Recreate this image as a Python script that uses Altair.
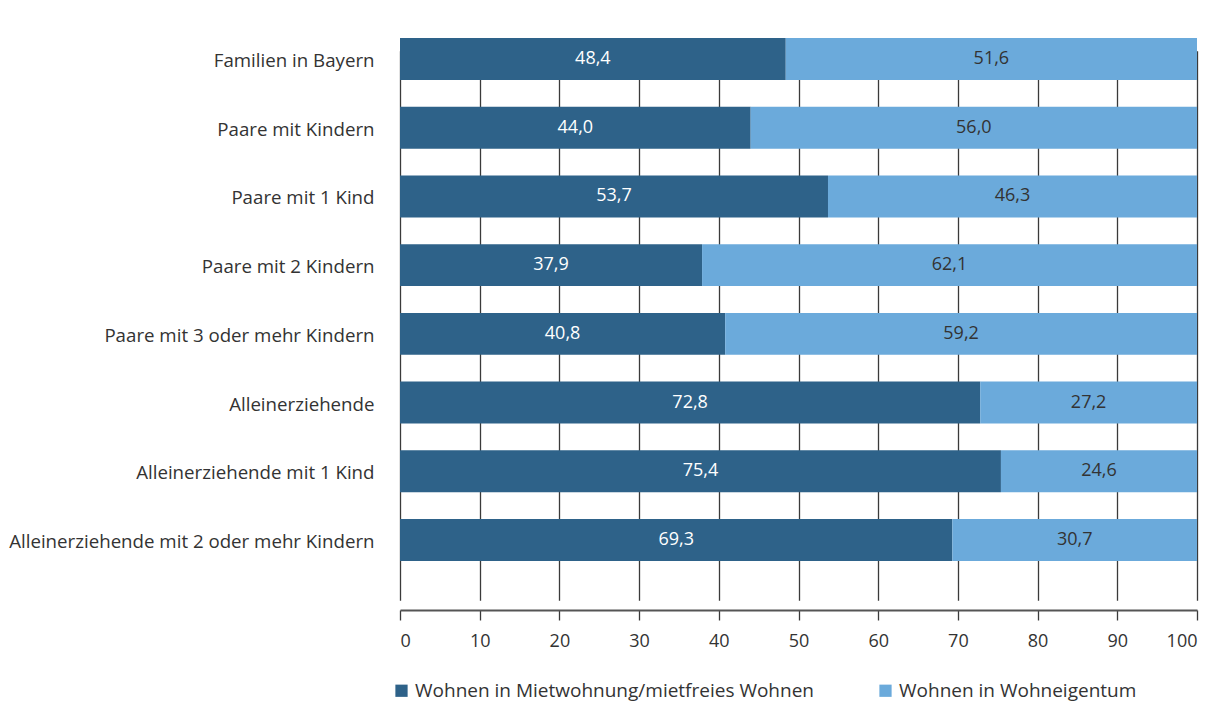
import altair as alt
import pandas as pd

categories = [
    "Familien in Bayern",
    "Paare mit Kindern",
    "Paare mit 1 Kind",
    "Paare mit 2 Kindern",
    "Paare mit 3 oder mehr Kindern",
    "Alleinerziehende",
    "Alleinerziehende mit 1 Kind",
    "Alleinerziehende mit 2 oder mehr Kindern",
]
miete = [48.4, 44.0, 53.7, 37.9, 40.8, 72.8, 75.4, 69.3]
eigentum = [51.6, 56.0, 46.3, 62.1, 59.2, 27.2, 24.6, 30.7]
series = ["Wohnen in Mietwohnung/mietfreies Wohnen", "Wohnen in Wohneigentum"]
colors = ["#2E6289", "#6BAADB"]
x_ticks = [0, 10, 20, 30, 40, 50, 60, 70, 80, 90, 100]

rows = []
for i, c in enumerate(categories):
    start = 0.0
    for s, v, k in ((series[0], miete[i], 0), (series[1], eigentum[i], 1)):
        rows.append({
            "cat": c, "series": s, "value": v, "start": start, "end": start + v,
            "mid": start + v / 2, "label": f"{v:.1f}".replace(".", ","), "k": k,
        })
        start += v
df = pd.DataFrame(rows)

FONT = "Open Sans"
yscale = alt.Scale(domain=categories, range=[9.65, 559.35], paddingInner=0.39, paddingOuter=0.195)
xscale = alt.Scale(domain=[0, 100], nice=False)

base = alt.Chart(df)

bars = base.mark_bar().encode(
    y=alt.Y("cat:N", sort=categories, scale=yscale,
            axis=alt.Axis(title=None, ticks=False, domain=False, grid=False, labelFontSize=18.7,
                          labelFont=FONT, labelColor="#333333", labelPadding=26, labelLimit=400,
                          labelBaseline="middle", labelOffset=2)),
    x=alt.X("start:Q", scale=xscale,
            axis=alt.Axis(title=None, values=x_ticks, grid=True, gridColor="#3a3a3a", gridWidth=1.3,
                          domainColor="#555555", domainWidth=2, tickColor="#3a3a3a", tickSize=10,
                          tickWidth=1.3, labelFontSize=18, labelFont=FONT, labelColor="#333333",
                          labelPadding=12)),
    x2="end:Q",
    color=alt.Color("series:N", scale=alt.Scale(domain=series, range=colors),
                    legend=alt.Legend(title=None, orient="none", legendX=-8, legendY=666,
                                      direction="horizontal", symbolType="square", symbolSize=150,
                                      symbolStrokeWidth=0, labelFontSize=19, labelFont=FONT,
                                      labelColor="#333333", columnPadding=62, symbolOffset=0,
                                      labelOffset=4, labelLimit=600)),
)

text = base.mark_text(fontSize=18, font=FONT).encode(
    y=alt.Y("cat:N", sort=categories, scale=yscale),
    x=alt.X("mid:Q", scale=xscale),
    text="label:N",
    color=alt.Color("k:N", scale=alt.Scale(domain=[0, 1], range=["#ffffff", "#333333"]), legend=None),
)

chart = alt.layer(bars, text).resolve_scale(color="independent").properties(
    width=797, height=595, autosize="none", background="white",
    padding={"left": 400, "top": 15, "right": 20, "bottom": 94},
).configure_view(stroke=None, strokeWidth=0)

chart.save("out.html", embed_options={"renderer": "svg", "actions": False})
